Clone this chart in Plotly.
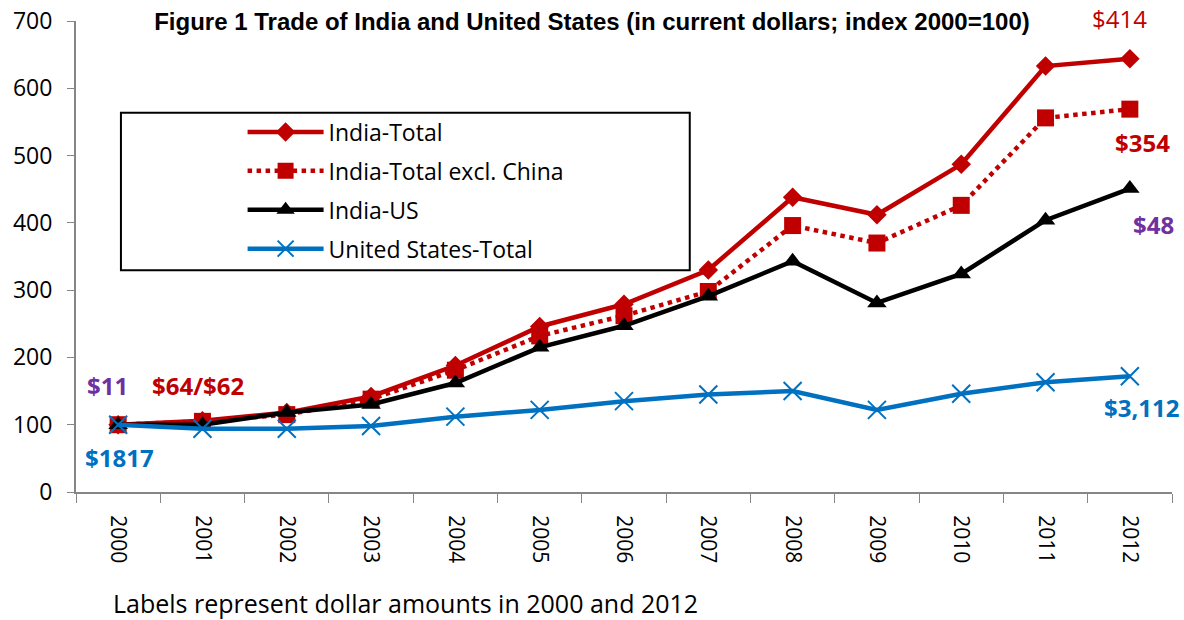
import plotly.graph_objects as go

years = ['2000', '2001', '2002', '2003', '2004', '2005', '2006',
         '2007', '2008', '2009', '2010', '2011', '2012']
india_total = [100, 106, 118, 142, 188, 246, 279, 330, 438, 412, 487, 633, 644]
india_excl_china = [100, 105, 115, 138, 181, 232, 262, 298, 396, 370, 426, 556, 569]
india_us = [100, 100, 118, 130, 162, 215, 247, 291, 343, 281, 324, 404, 451]
us_total = [100, 94, 94, 98, 112, 122, 135, 145, 150, 122, 146, 163, 172]

RED = '#C00000'
BLUE = '#0070C0'
PURPLE = '#7030A0'
FONT = 'Open Sans'

fig = go.Figure()

fig.add_trace(go.Scatter(
    x=years, y=india_total, name='India-Total', mode='lines+markers',
    line=dict(color=RED, width=4.5), legendgroup='a',
    marker=dict(symbol='diamond', size=15, color=RED)))
fig.add_trace(go.Scatter(
    x=years, y=india_excl_china, name='India-Total excl. China', mode='lines+markers',
    line=dict(color=RED, width=4.5, dash='dot'), legendgroup='b',
    marker=dict(symbol='square', size=17, color=RED)))
fig.add_trace(go.Scatter(
    x=years, y=india_us, name='India-US', mode='lines+markers',
    line=dict(color='black', width=4.5), legendgroup='c',
    marker=dict(symbol='triangle-up', size=17, color='black')))
fig.add_trace(go.Scatter(
    x=years, y=us_total, name='United States-Total', mode='lines+markers',
    line=dict(color=BLUE, width=4.5), legendgroup='d',
    marker=dict(symbol='x-thin', size=18, color=BLUE, line=dict(color=BLUE, width=2))))

# dollar labels for 2000 and 2012 (x given as category index)
labels = [
    ('$354', 12, 519, 13, RED, True),
    ('$48', 12, 397, 24, PURPLE, True),
    ('$3,112', 12, 125, 12, BLUE, True),
    ('$11', 0, 158, -11, PURPLE, True),
    ('$64/$62', 1, 158, -4, RED, True),
    ('$1817', 0, 52, 1, BLUE, True),
]
for text, x, y, dx, color, bold in labels:
    fig.add_annotation(x=x, y=y, xshift=dx, showarrow=False,
                       text=f'<b>{text}</b>' if bold else text,
                       font=dict(family=FONT, size=24, color=color))
# top label sits above the axis range, so place it in paper units
fig.add_annotation(x=12, xref='x', y=1.0, yref='paper', xshift=-10, yshift=3,
                   yanchor='middle', showarrow=False, text='$414',
                   font=dict(family=FONT, size=24, color=RED))

fig.add_annotation(xref='paper', yref='paper', x=0.032, y=-0.236,
                   xanchor='left', yanchor='middle', showarrow=False,
                   text='Labels represent dollar amounts in 2000 and 2012',
                   font=dict(family=FONT, size=25, color='black'))

# legend frame
fig.add_shape(type='rect', xref='paper', yref='paper',
              x0=0.041, x1=0.560, y0=0.471, y1=0.805,
              line=dict(color='black', width=2), fillcolor='rgba(0,0,0,0)')

fig.update_layout(
    width=1184, height=620,
    margin=dict(l=76, r=12, t=21, b=128, autoexpand=False),
    plot_bgcolor='white', paper_bgcolor='white',
    title=dict(text='<b>Figure 1 Trade of India and United States (in current dollars; index 2000=100)</b>',
               x=0.5, xref='container', y=1 - 22 / 620, yref='container',
               xanchor='center', yanchor='middle',
               font=dict(family='Liberation Sans', size=24, color='black')),
    legend=dict(x=0.152, y=0.81, xanchor='left', yanchor='top',
                bgcolor='rgba(0,0,0,0)', borderwidth=0,
                font=dict(family=FONT, size=23, color='black'),
                itemwidth=76, tracegroupgap=6),
    font=dict(family=FONT, size=20, color='black'),
)
fig.update_xaxes(type='category', range=[-0.5, 12.5], tickangle=90,
                 showline=True, linecolor='#868686', linewidth=2,
                 ticks='outside', ticklen=9, tickcolor='#868686', tickwidth=1,
                 tickson='boundaries', showgrid=False, ticklabelstandoff=17,
                 automargin=False, ticklabeloverflow='allow',
                 tickfont=dict(family=FONT, size=21))
fig.update_yaxes(range=[0, 700], dtick=100, showline=True, linecolor='#868686',
                 linewidth=2, ticks='outside', ticklen=7, tickcolor='#868686',
                 showgrid=False, zeroline=False, ticklabelstandoff=10,
                 automargin=False, ticklabeloverflow='allow',
                 tickfont=dict(family=FONT, size=23))

# drop the default page margin so the figure fills the window exactly
fig.write_html('out.html', config={'displayModeBar': False},
               post_script="document.body.style.margin='0';")
